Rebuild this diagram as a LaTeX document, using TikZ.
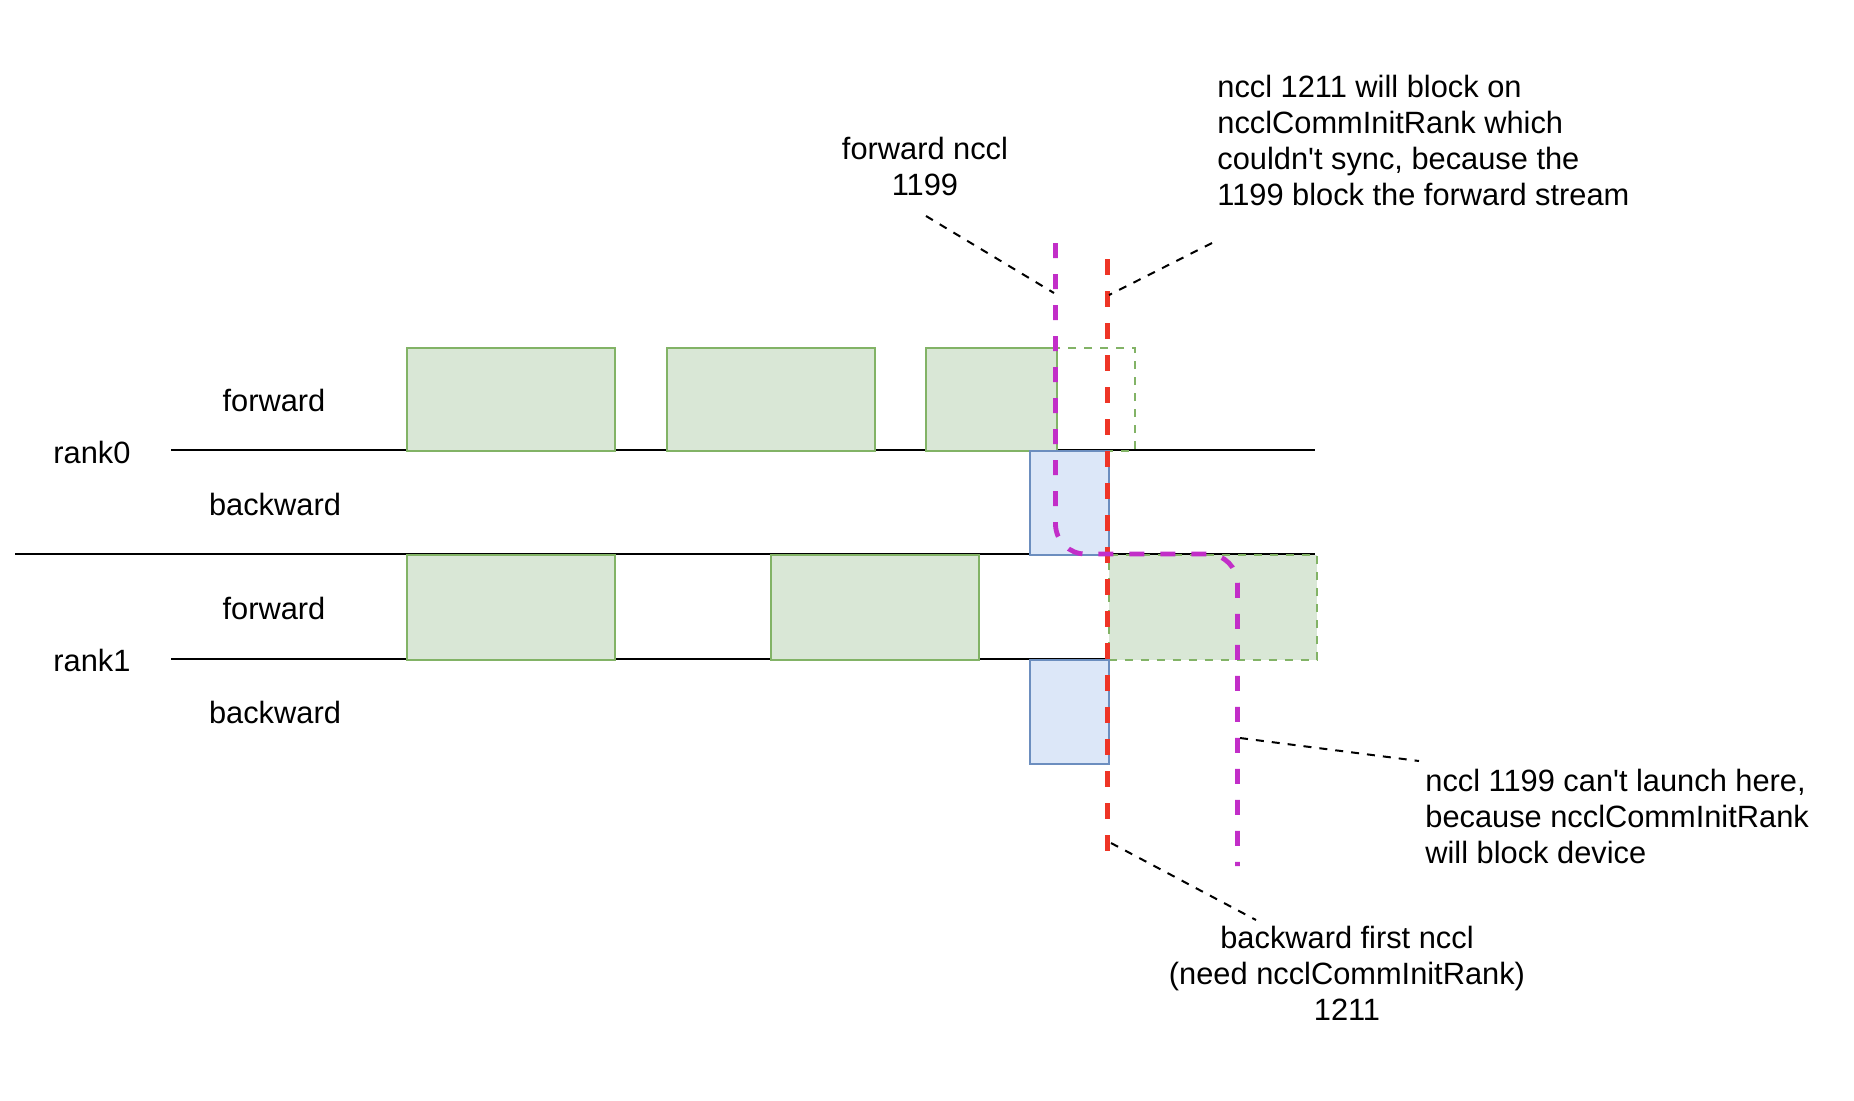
\documentclass[tikz,border=0pt]{standalone}
\usepackage{fontspec}
\setmainfont{Liberation Sans}
\begin{document}
\begin{tikzpicture}[x=0.5pt,y=-0.5pt,
  txt/.style={inner sep=0pt,font=\fontsize{15.4}{18}\selectfont},
  fwdbox/.style={draw=gborder,fill=gfill,line width=1pt},
  fwddash/.style={draw=gborder,line width=1pt,dash pattern=on 4pt off 4pt},
  bwdbox/.style={draw=bborder,fill=bfill,line width=1pt},
  axis/.style={draw=black,line width=1pt},
  mline/.style={draw=mag,line width=2.4pt,dash pattern=on 7.5pt off 8pt},
  rline/.style={draw=redl,line width=2.4pt,dash pattern=on 8pt off 8pt},
  callout/.style={draw=black,line width=1pt,dash pattern=on 4pt off 4pt}]
\definecolor{gfill}{HTML}{D9E7D6}
\definecolor{gborder}{HTML}{82B366}
\definecolor{bfill}{HTML}{DCE7F8}
\definecolor{bborder}{HTML}{6C8EBF}
\definecolor{mag}{HTML}{C22EC8}
\definecolor{redl}{HTML}{EE3526}
\useasboundingbox (0,0) rectangle (1854,1100);
% axes
\coordinate (a0s) at (171,450); \coordinate (a0e) at (1315,450);
\coordinate (ams) at (15,554);  \coordinate (ame) at (1315,554);
\coordinate (a1s) at (171,659); \coordinate (a1e) at (1315,659);
\draw[axis] (a0s) -- (a0e);
\draw[axis] (ams) -- (ame);
\draw[axis] (a1s) -- (a1e);
% rank0 forward
\node[fwdbox,inner sep=0pt,anchor=north west,minimum width=104pt,minimum height=51.5pt] (f01) at (405.5,347) {};
\node[fwdbox,inner sep=0pt,anchor=north west,minimum width=104pt,minimum height=51.5pt] (f02) at (665.5,347) {};
\node[fwdbox,inner sep=0pt,anchor=north west,minimum width=65.5pt,minimum height=51.5pt] (f03) at (925,347) {};
\node[fwddash,inner sep=0pt,anchor=north west,minimum width=39pt,minimum height=51.5pt] (f04) at (1056,347) {};
% rank0 backward
\node[bwdbox,inner sep=0pt,anchor=north west,minimum width=39.2pt,minimum height=52pt] (b01) at (1029.3,450) {};
% rank1 forward
\node[fwdbox,inner sep=0pt,anchor=north west,minimum width=104pt,minimum height=52.5pt] (f11) at (405.5,554) {};
\node[fwdbox,inner sep=0pt,anchor=north west,minimum width=104pt,minimum height=52.5pt] (f12) at (769.5,554) {};
\node[fwddash,fill=gfill,inner sep=0pt,anchor=north west,minimum width=104pt,minimum height=52.5pt] (f13) at (1107.5,554) {};
% rank1 backward
\node[bwdbox,inner sep=0pt,anchor=north west,minimum width=39.2pt,minimum height=52pt] (b11) at (1029.3,659) {};
% labels
\node[txt] (l1) at (274,400) {forward};
\node[txt] (l2) at (92,452) {rank0};
\node[txt] (l3) at (275,504) {backward};
\node[txt] (l4) at (274,608) {forward};
\node[txt] (l5) at (92,660) {rank1};
\node[txt] (l6) at (275,712) {backward};
\node[txt,align=center] (n1) at (925,166.5) {forward nccl\\1199};
\node[txt,align=left,anchor=west] (n2) at (1217,140.5) {nccl 1211 will block on\\ncclCommInitRank which\\couldn\textquotesingle t sync, because the\\1199 block the forward stream};
\node[txt,align=left,anchor=west] (n3) at (1425,816) {nccl 1199 can\textquotesingle t launch here,\\because ncclCommInitRank\\will block device};
\node[txt,align=center] (n4) at (1347,973) {backward first nccl\\(need ncclCommInitRank)\\1211};
% magenta and red lines
\coordinate (mtop) at (1055.5,243);
\coordinate (mbot) at (1237.5,866);
\coordinate (rtop) at (1107.7,259);
\coordinate (rbot) at (1107.7,866);
\draw[rline] (rtop) -- (rbot);
\draw[mline,rounded corners=15] (mtop) -- (1055.5,554) -- (1237.5,554) -- (mbot);
% callout connectors
\coordinate (c1a) at (926,216); \coordinate (c1b) at (1054,293);
\coordinate (c2a) at (1212,243); \coordinate (c2b) at (1109,295);
\coordinate (c3a) at (1240,738); \coordinate (c3b) at (1419,761);
\coordinate (c4a) at (1111,843); \coordinate (c4b) at (1256,920);
\draw[callout] (c1a) -- (c1b);
\draw[callout] (c2a) -- (c2b);
\draw[callout] (c3a) -- (c3b);
\draw[callout] (c4a) -- (c4b);
\end{tikzpicture}
\end{document}
